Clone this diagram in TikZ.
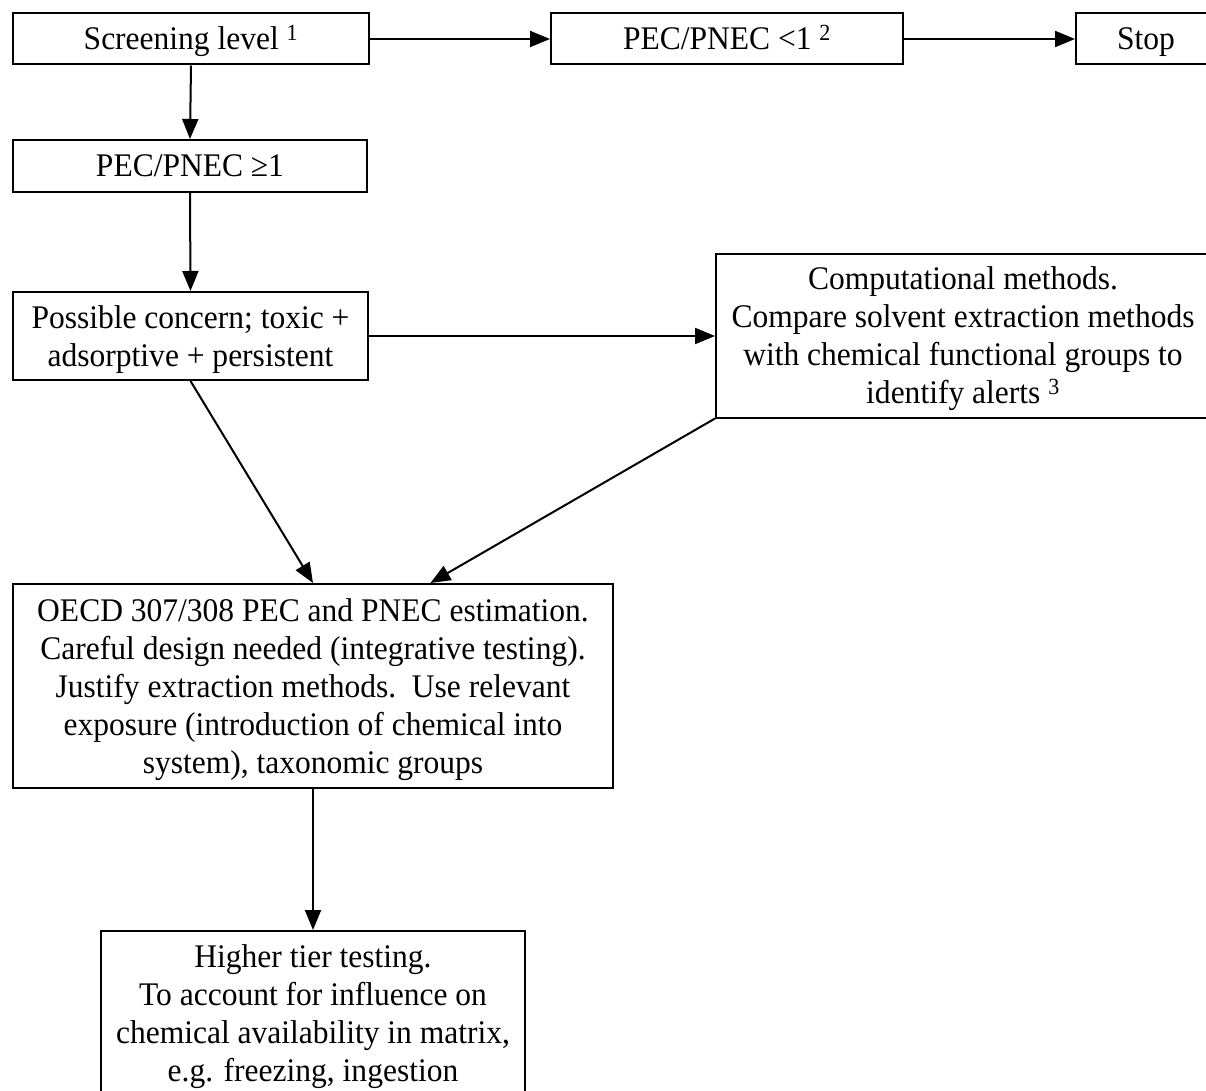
\documentclass[tikz,border=0pt]{standalone}
\usepackage{fontspec}
\setmainfont{Liberation Serif}[FakeStretch=0.955]
\usetikzlibrary{arrows.meta,calc}
\newcommand\fs{\rule[-8pt]{0pt}{38pt}}
\begin{document}
\begin{tikzpicture}[x=1pt,y=-1pt,
  box/.style={draw,line width=2pt,inner sep=0pt,align=center,font=\fontsize{33}{38}\selectfont},
  arr/.style={line width=2pt,-{Triangle[length=20pt,width=16pt]}}]
\useasboundingbox (0,0) rectangle (1206,1091);
\clip (0,0) rectangle (1206,1091);
\fill[white] (0,0) rectangle (1206,1091);
\node[box,minimum width=356pt,minimum height=51pt] (scr) at (191,39) {\fs Screening level \textsuperscript{1}};
\node[box,minimum width=352pt,minimum height=51pt] (pec1) at (727,39) {\fs PEC/PNEC <1 \textsuperscript{2}};
\node[box,minimum width=140pt,minimum height=51pt] (stop) at (1146,39) {\fs Stop};
\node[box,minimum width=354pt,minimum height=52pt] (pge) at (190,166) {\fs PEC/PNEC ≥1};
\node[box,minimum width=355pt,minimum height=88pt] (poss) at (190.5,336) {\fs Possible concern; toxic +\\adsorptive + persistent\fs};
\node[box,minimum width=494pt,minimum height=164pt] (comp) at (963,335.5) {\fs Computational methods.\\Compare solvent extraction methods\\with chemical functional groups to\\identify alerts \textsuperscript{3}\fs};
\node[box,minimum width=600pt,minimum height=204pt] (oecd) at (313,686) {\fs OECD 307/308 PEC and PNEC estimation.\\Careful design needed (integrative testing).\\Justify extraction methods.\ \ Use relevant\\exposure (introduction of chemical into\\system), taxonomic groups\fs};
\node[box,minimum width=424pt,minimum height=164pt] (high) at (313,1013) {\fs Higher tier testing.\\To account for influence on\\chemical availability in matrix,\\e.g. freezing, ingestion\fs};
\coordinate (oecdin) at ($(oecd.north west)!0.695!(oecd.north east)$);
\draw[arr] (scr.east) -- (pec1.west);
\draw[arr] (pec1.east) -- (stop.west);
\draw[arr] (scr.south) -- (pge.north);
\draw[arr] (pge.south) -- (poss.north);
\draw[arr] (poss.east) -- (poss.east -| comp.west);
\draw[arr] (poss.south) -- (oecd.north);
\draw[arr] (comp.south west) -- (oecdin);
\draw[arr] (oecd.south) -- (high.north);
\end{tikzpicture}
\end{document}
